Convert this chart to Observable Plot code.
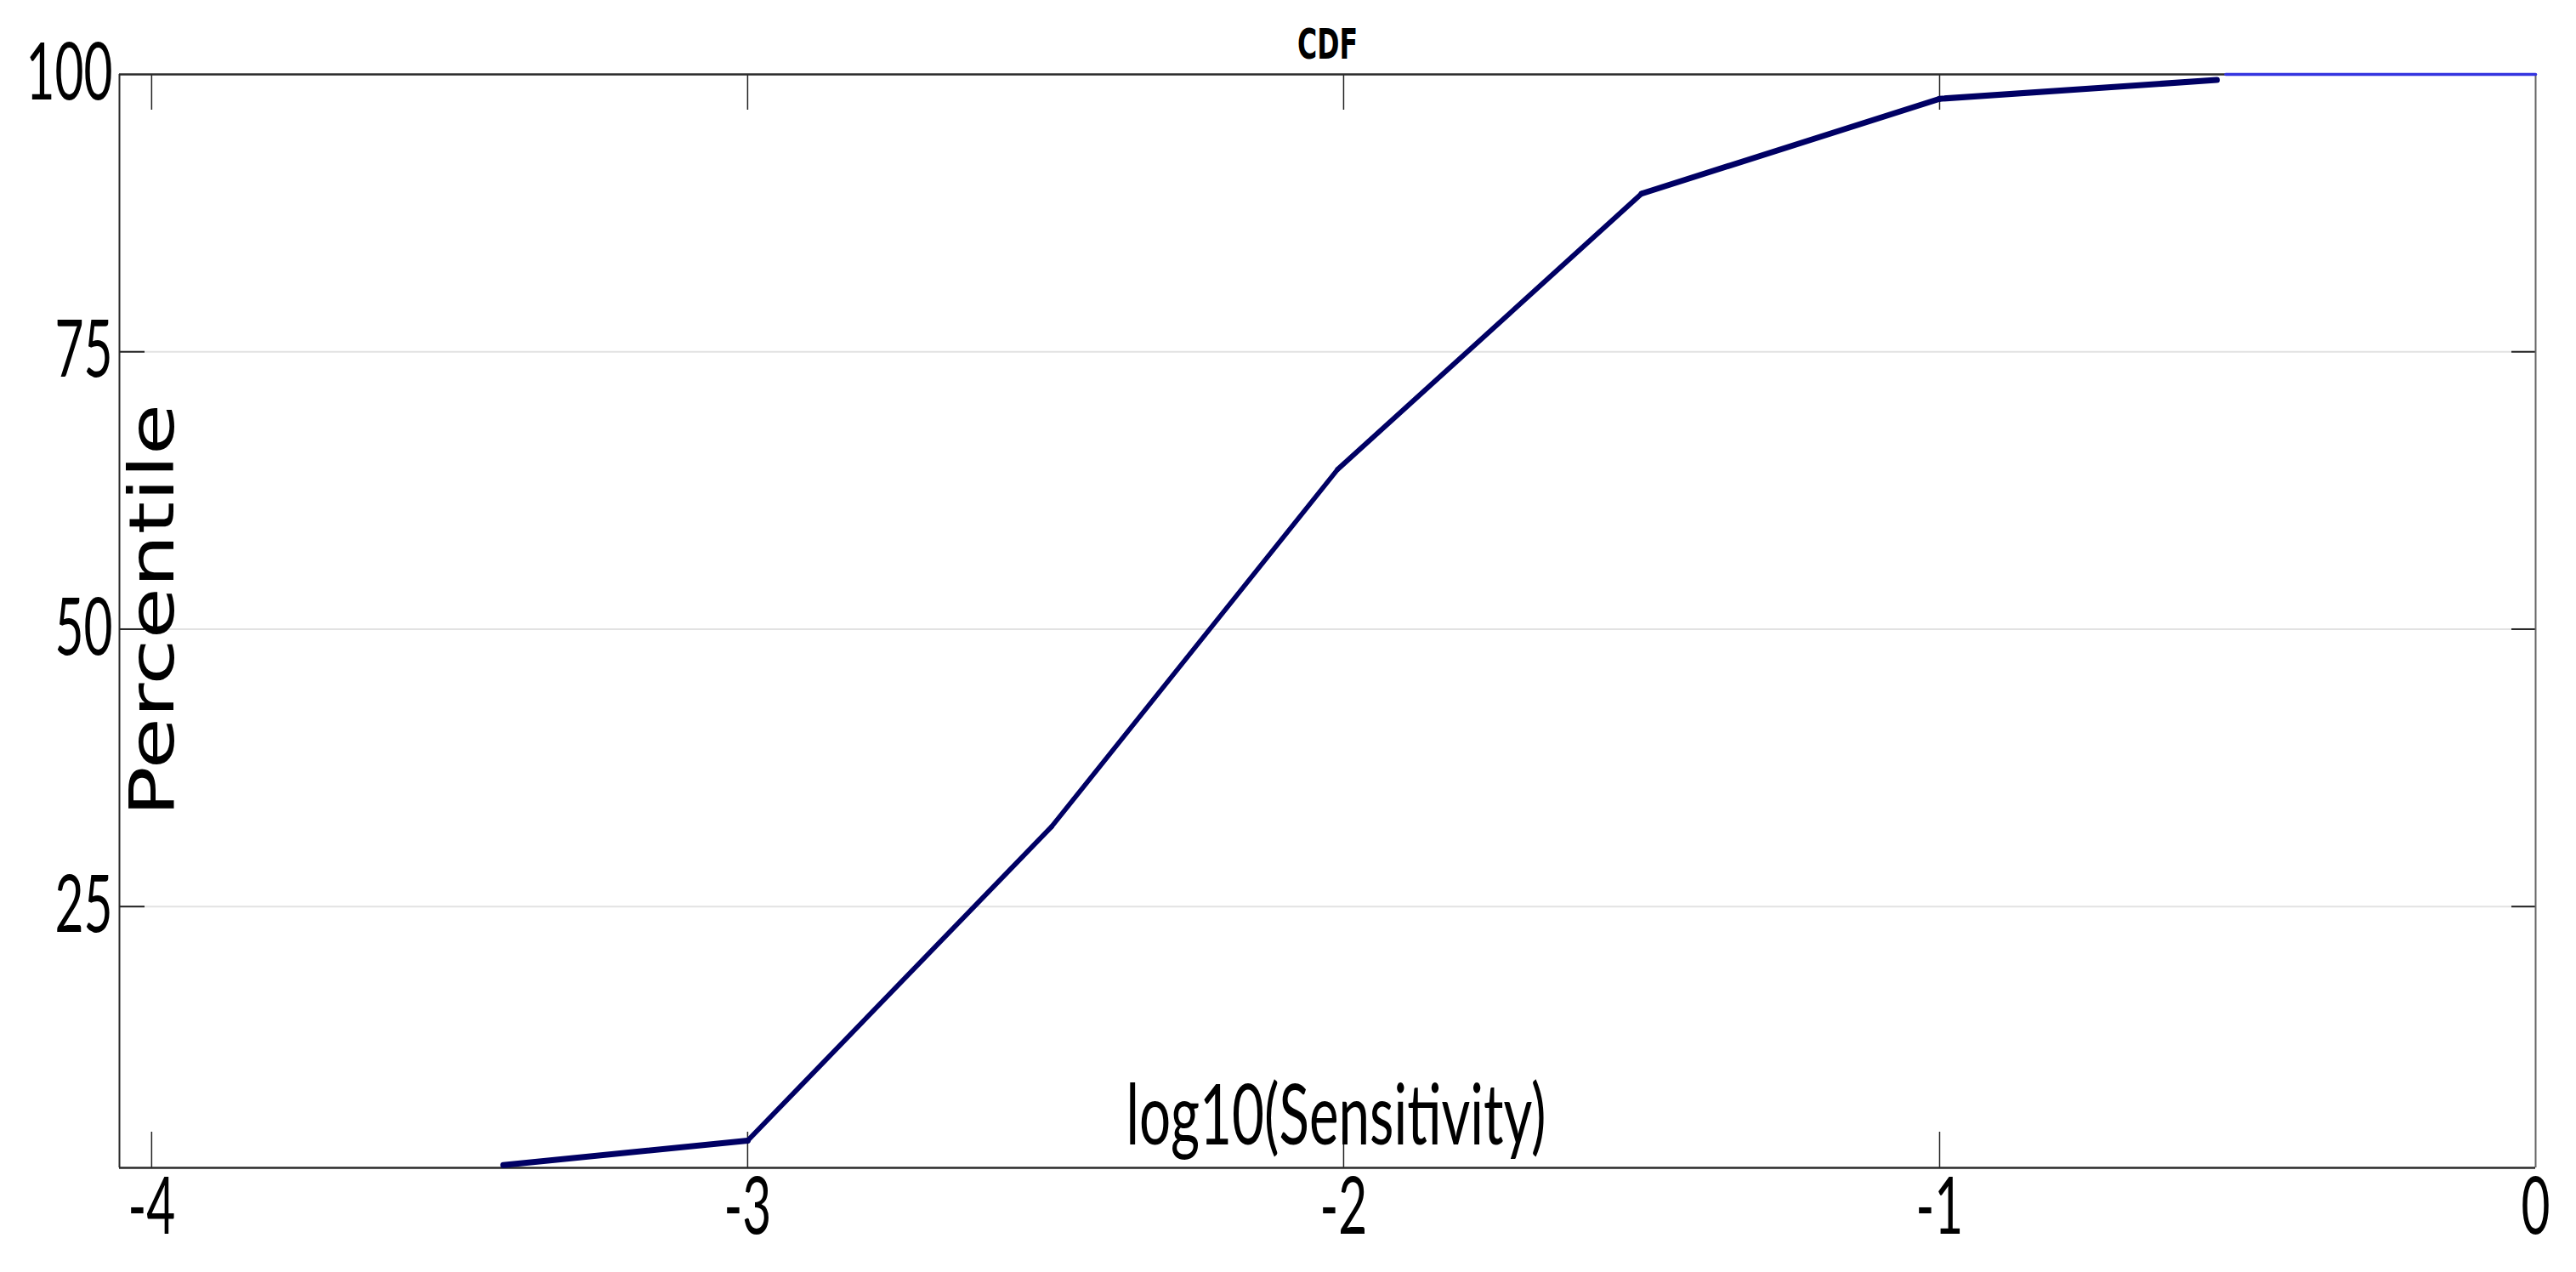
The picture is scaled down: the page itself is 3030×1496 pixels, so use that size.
<!DOCTYPE html>
<html>
<head>
<meta charset="utf-8">
<script src="https://cdn.jsdelivr.net/npm/d3@7"></script>
<script src="https://cdn.jsdelivr.net/npm/@observablehq/plot@0.6"></script>
<style>
  html, body { margin: 0; padding: 0; background: #fff; }
  #chart svg { display: block; }
</style>
</head>
<body>
<div id="chart"></div>
<script>
// ---- data ----
const xValues = [-3.41, -3.0, -2.49, -2.01, -1.50, -1.00, -0.535];
const yValues = [1.7, 3.9, 32.2, 64.4, 89.25, 97.8, 99.5];
const tailX = [-0.52, 0];
const tailY = [100, 100];
const xTicks = [-4, -3, -2, -1, 0];
const yTicks = [25, 50, 75, 100];
const xDomain = [-4.054, 0];
const yDomain = [1.45, 100];
const titleText = "CDF";
const xLabel = "log10(Sensitivity)";
const yLabel = "Percentile";

// ---- layout ----
const W = 3030, H = 1496;
const mL = 140, mR = 48, mT = 87, mB = 123;
const plotW = W - mL - mR, plotH = H - mT - mB;
const pxX = plotW / (xDomain[1] - xDomain[0]);
const pxY = plotH / (yDomain[1] - yDomain[0]);

const pts = xValues.map((x, i) => ({x, y: yValues[i]}));
const segs = pts.slice(1).map((p, i) => ({x1: pts[i].x, y1: pts[i].y, x2: p.x, y2: p.y}));
const tail = tailX.map((x, i) => ({x, y: tailY[i]}));

// stroke width depends on on-screen angle (the reference is stretched vertically)
const segWidth = (d) => {
  const dx = (d.x2 - d.x1) * pxX, dy = (d.y2 - d.y1) * pxY;
  const th = Math.atan2(Math.abs(dy), Math.abs(dx));
  const k = 1.65, w0 = 4.3;
  return w0 * Math.sqrt(k * k * Math.cos(th) ** 2 + Math.sin(th) ** 2);
};

const innerTicksX = xTicks.filter((t) => t > xDomain[0] && t < xDomain[1]);
const innerTicksY = yTicks.filter((t) => t > yDomain[0] && t < yDomain[1]);

const svg = Plot.plot({
  width: W,
  height: H,
  marginLeft: mL,
  marginRight: mR,
  marginTop: mT,
  marginBottom: mB,
  x: {domain: xDomain},
  y: {domain: yDomain},
  style: {background: "#fff", color: "#000", overflow: "visible"},
  marks: [
    Plot.gridY(innerTicksY, {stroke: "#e2e2e2", strokeOpacity: 1, strokeWidth: 2}),
    // inward ticks
    Plot.ruleX(innerTicksX, {insetTop: plotH - 42, stroke: "#222", strokeWidth: 1.5}),
    Plot.ruleX(innerTicksX, {insetBottom: plotH - 42, stroke: "#222", strokeWidth: 1.5}),
    Plot.ruleY(innerTicksY, {insetRight: plotW - 30, stroke: "#222", strokeWidth: 2}),
    Plot.ruleY(innerTicksY, {insetLeft: plotW - 28, stroke: "#222", strokeWidth: 2}),
    // frame
    Plot.ruleX([xDomain[1]], {stroke: "#666", strokeWidth: 2}),
    Plot.ruleX([xDomain[0]], {stroke: "#2a2a2a", strokeWidth: 2}),
    Plot.ruleY([yDomain[0]], {stroke: "#2a2a2a", strokeWidth: 2.5}),
    Plot.ruleY([yDomain[1]], {stroke: "#2a2a2a", strokeWidth: 2.5}),
    // tick labels
    Plot.axisX({
      ticks: xTicks, tickFormat: (d) => String(d), anchor: "bottom",
      tickSize: 0, tickPadding: 11, fontSize: 93, fontFamily: "Lato",
      fill: "#000", label: null
    }),
    Plot.axisY({
      ticks: yTicks, tickFormat: (d) => String(d), anchor: "left",
      tickSize: 0, tickPadding: 8, fontSize: 93, fontFamily: "Lato",
      fill: "#000", label: null
    }),
    // data
    Plot.link(segs, {
      x1: "x1", y1: "y1", x2: "x2", y2: "y2",
      stroke: "#000064", strokeWidth: segWidth, strokeLinecap: "round"
    }),
    Plot.line(tail, {x: "x", y: "y", stroke: "#3535e0", strokeWidth: 3.5}),
    // texts
    Plot.text([titleText], {
      frameAnchor: "top", dy: -19, lineAnchor: "bottom", textAnchor: "middle",
      fontSize: 49, fontWeight: "bold", fontFamily: "DejaVu Sans", fill: "#000"
    }),
    Plot.text([xLabel], {
      frameAnchor: "bottom", dx: 10, dy: -28, lineAnchor: "bottom", textAnchor: "middle",
      fontSize: 99, fontFamily: "Lato", fill: "#000"
    }),
    Plot.text([yLabel], {
      frameAnchor: "left", dx: 63, dy: -13, lineAnchor: "bottom", rotate: -90,
      textAnchor: "middle",
      fontSize: 73, fontFamily: "DejaVu Sans", fill: "#000"
    })
  ]
});

document.getElementById("chart").appendChild(svg);

// compress texts along their reading direction to the reference's proportions
function fitTexts() {
  const texts = Array.from(svg.querySelectorAll("text"));
  const find = (s) => texts.find((t) => t.textContent === s);
  const ref = find("100");
  const tickScale = ref ? 102 / ref.getComputedTextLength() : 0.63;
  const targets = {[titleText]: 71, [xLabel]: 494, [yLabel]: 486};
  for (const t of texts) {
    const txt = t.textContent;
    let s;
    if (txt in targets) s = targets[txt] / t.getComputedTextLength();
    else s = tickScale;
    const tr = t.getAttribute("transform") || "";
    t.setAttribute("transform", tr + ` scale(${s},1)`);
  }
}
if (document.fonts && document.fonts.ready) document.fonts.ready.then(fitTexts);
else fitTexts();
</script>
</body>
</html>
